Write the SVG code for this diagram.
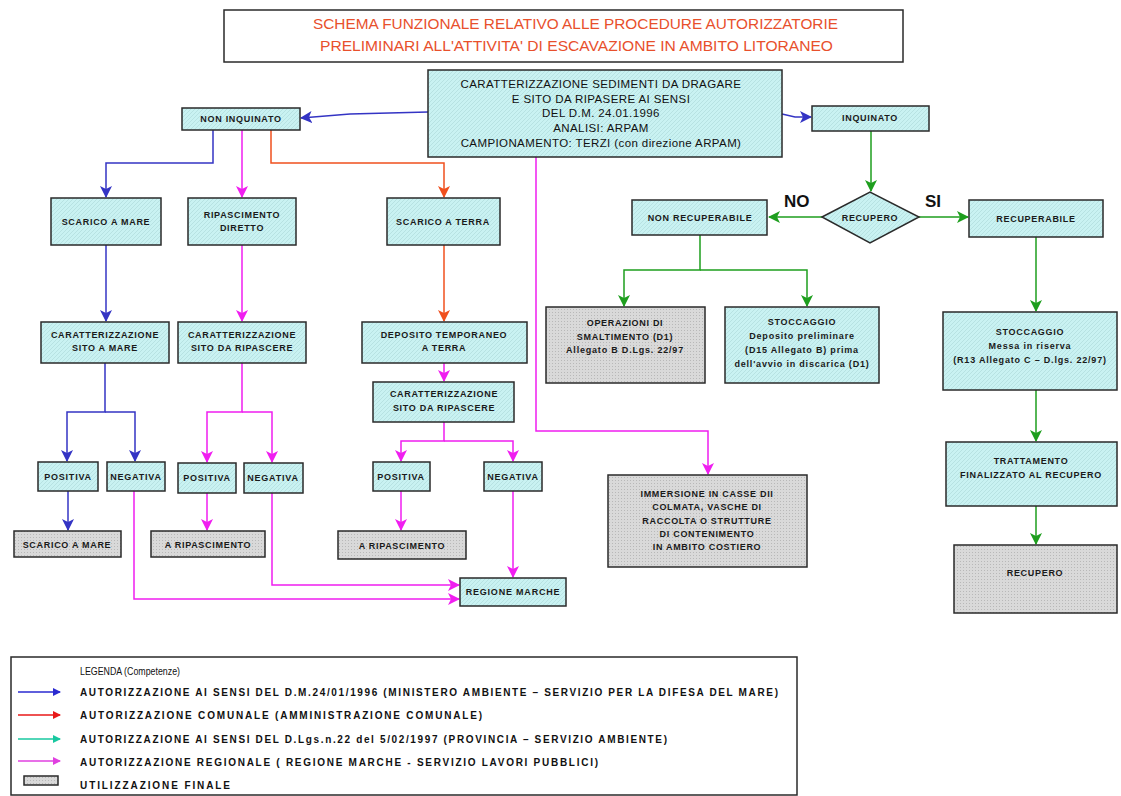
<svg xmlns="http://www.w3.org/2000/svg" width="1121" height="796" viewBox="0 0 1121 796">
<defs>
<pattern id="hc" width="4" height="4" patternUnits="userSpaceOnUse"><rect width="4" height="4" fill="#c9f2f2"/><path d="M0,4 L4,0" stroke="#b3dede" stroke-width="0.8"/></pattern>
<pattern id="hg" width="3" height="3" patternUnits="userSpaceOnUse"><rect width="3" height="3" fill="#d9d9d9"/><rect x="0" y="0" width="1" height="1" fill="#b8b8b8"/></pattern>
<marker id="aB" markerUnits="userSpaceOnUse" markerWidth="12" markerHeight="12" refX="11" refY="6" orient="auto"><path d="M0,0 L12,6 L0,12 L3,6 z" fill="#3434c4"/></marker>
<marker id="aM" markerUnits="userSpaceOnUse" markerWidth="12" markerHeight="12" refX="11" refY="6" orient="auto"><path d="M0,0 L12,6 L0,12 L3,6 z" fill="#f01ef0"/></marker>
<marker id="aO" markerUnits="userSpaceOnUse" markerWidth="12" markerHeight="12" refX="11" refY="6" orient="auto"><path d="M0,0 L12,6 L0,12 L3,6 z" fill="#f0501e"/></marker>
<marker id="aG" markerUnits="userSpaceOnUse" markerWidth="12" markerHeight="12" refX="11" refY="6" orient="auto"><path d="M0,0 L12,6 L0,12 L3,6 z" fill="#1e9e1e"/></marker>
<marker id="lB" markerUnits="userSpaceOnUse" markerWidth="8" markerHeight="8" refX="7" refY="4" orient="auto"><path d="M0,0 L8,4 L0,8 z" fill="#2a2ad0"/></marker>
<marker id="lR" markerUnits="userSpaceOnUse" markerWidth="8" markerHeight="8" refX="7" refY="4" orient="auto"><path d="M0,0 L8,4 L0,8 z" fill="#e81818"/></marker>
<marker id="lT" markerUnits="userSpaceOnUse" markerWidth="8" markerHeight="8" refX="7" refY="4" orient="auto"><path d="M0,0 L8,4 L0,8 z" fill="#18c8a0"/></marker>
<marker id="lM" markerUnits="userSpaceOnUse" markerWidth="8" markerHeight="8" refX="7" refY="4" orient="auto"><path d="M0,0 L8,4 L0,8 z" fill="#e040e0"/></marker>
</defs>
<style>
.c{fill:url(#hc);stroke:#2a2a2a;stroke-width:1.5}
.g{fill:url(#hg);stroke:#2a2a2a;stroke-width:1.5}
.t{font-family:"Liberation Sans",Arial,sans-serif;font-size:9px;font-weight:bold;fill:#1a1a1a;text-anchor:middle;letter-spacing:0.7px}
.tl{font-family:"Liberation Sans",Arial,sans-serif;font-size:9px;font-weight:bold;fill:#1a1a1a;text-anchor:middle;letter-spacing:0.8px}
.tc{font-family:"Liberation Sans",Arial,sans-serif;font-size:11.5px;fill:#111;text-anchor:middle;letter-spacing:0.4px}
.ti{font-family:"Liberation Sans",Arial,sans-serif;font-size:14.5px;fill:#e8502c}
.lg{font-family:"Liberation Sans",Arial,sans-serif;font-size:10px;font-weight:bold;fill:#111}
.yn{font-family:"Liberation Sans",Arial,sans-serif;font-size:17px;font-weight:bold;fill:#111}
.b{fill:none;stroke:#3434c4;stroke-width:1.5;marker-end:url(#aB)}
.m{fill:none;stroke:#f01ef0;stroke-width:1.5;marker-end:url(#aM)}
.o{fill:none;stroke:#f0501e;stroke-width:1.5;marker-end:url(#aO)}
.gr{fill:none;stroke:#1e9e1e;stroke-width:1.5;marker-end:url(#aG)}
</style>
<rect width="1121" height="796" fill="#ffffff"/>

<g id="title">
<rect x="224" y="10" width="679" height="52" fill="#ffffff" stroke="#2a2a2a" stroke-width="1.5"/>
<text class="ti" x="313" y="29" textLength="525" lengthAdjust="spacingAndGlyphs">SCHEMA FUNZIONALE RELATIVO ALLE PROCEDURE AUTORIZZATORIE</text>
<text class="ti" x="320" y="51" textLength="513" lengthAdjust="spacingAndGlyphs">PRELIMINARI ALL'ATTIVITA' DI ESCAVAZIONE IN AMBITO LITORANEO</text>
</g>

<g id="connectors">
<path class="b" d="M428,112 L350,114 L301,118"/>
<path class="b" d="M782,114 L795,117 L811,117"/>
<path class="b" d="M213,130 V163 H106 V197"/>
<path class="b" d="M106,245 V321"/>
<path class="b" d="M105,363 V412 H67 V461"/>
<path class="b" d="M105,412 H135 V461"/>
<path class="b" d="M68,491 V530"/>
<path class="m" d="M242,130 V197"/>
<path class="m" d="M242,245 V321"/>
<path class="m" d="M242,363 V412 H207 V462"/>
<path class="m" d="M242,412 H272 V462"/>
<path class="m" d="M207,493 V530"/>
<path class="m" d="M134,491 V599 H459"/>
<path class="m" d="M272,493 V585 H459"/>
<path class="m" d="M444,363 V381"/>
<path class="m" d="M444,422 V441 H401 V461"/>
<path class="m" d="M444,441 H513 V461"/>
<path class="m" d="M401,491 V530"/>
<path class="m" d="M513,491 V577"/>
<path class="m" d="M536,157 V431 H708 V474"/>
<path class="o" d="M271,130 V163 H444 V197"/>
<path class="o" d="M444,245 V321"/>
<path class="gr" d="M871,131 V191"/>
<path class="gr" d="M822,217 H769"/>
<path class="gr" d="M919,217 H968"/>
<path class="gr" d="M700,235 V270 H624 V306"/>
<path class="gr" d="M700,270 H807 V306"/>
<path class="gr" d="M1036,237 V311"/>
<path class="gr" d="M1036,390 V441"/>
<path class="gr" d="M1036,506 V544"/>
</g>

<g id="n-central">
<rect class="c" x="428" y="70" width="354" height="87"/>
<text class="tc" x="601" y="88">CARATTERIZZAZIONE SEDIMENTI DA DRAGARE</text>
<text class="tc" x="601" y="103">E SITO DA RIPASERE AI SENSI</text>
<text class="tc" x="601" y="117">DEL D.M. 24.01.1996</text>
<text class="tc" x="601" y="132">ANALISI: ARPAM</text>
<text class="tc" x="601" y="147">CAMPIONAMENTO: TERZI (con direzione ARPAM)</text>
</g>
<g id="n-noninq"><rect class="c" x="182" y="108" width="118" height="22"/><text class="t" x="241" y="122">NON INQUINATO</text></g>
<g id="n-inq"><rect class="c" x="812" y="106" width="117" height="25"/><text class="t" x="870" y="121">INQUINATO</text></g>
<g id="n-scaricomare"><rect class="c" x="51" y="198" width="110" height="47"/><text class="t" x="106" y="225">SCARICO A MARE</text></g>
<g id="n-ripdiretto"><rect class="c" x="188" y="198" width="108" height="47"/><text class="t" x="242" y="218">RIPASCIMENTO</text><text class="t" x="242" y="231">DIRETTO</text></g>
<g id="n-scaricoterra"><rect class="c" x="387" y="198" width="113" height="47"/><text class="t" x="443" y="225">SCARICO A TERRA</text></g>
<g id="n-caratmare"><rect class="c" x="41" y="322" width="128" height="41"/><text class="t" x="105" y="338">CARATTERIZZAZIONE</text><text class="t" x="105" y="351">SITO A MARE</text></g>
<g id="n-caratrip"><rect class="c" x="178" y="322" width="128" height="41"/><text class="t" x="242" y="338">CARATTERIZZAZIONE</text><text class="t" x="242" y="351">SITO DA RIPASCERE</text></g>
<g id="n-deposito"><rect class="c" x="362" y="322" width="165" height="41"/><text class="t" x="444" y="338">DEPOSITO TEMPORANEO</text><text class="t" x="444" y="351">A TERRA</text></g>
<g id="n-caratrip3"><rect class="c" x="373" y="382" width="141" height="40"/><text class="t" x="444" y="397">CARATTERIZZAZIONE</text><text class="t" x="444" y="411">SITO DA RIPASCERE</text></g>
<g id="n-pos1"><rect class="c" x="38" y="462" width="60" height="29"/><text class="tl" x="68" y="480">POSITIVA</text></g>
<g id="n-neg1"><rect class="c" x="107" y="462" width="58" height="29"/><text class="tl" x="136" y="480">NEGATIVA</text></g>
<g id="n-pos2"><rect class="c" x="178" y="463" width="58" height="30"/><text class="tl" x="207" y="481">POSITIVA</text></g>
<g id="n-neg2"><rect class="c" x="244" y="463" width="59" height="30"/><text class="tl" x="273" y="481">NEGATIVA</text></g>
<g id="n-pos3"><rect class="c" x="373" y="462" width="57" height="29"/><text class="tl" x="401" y="480">POSITIVA</text></g>
<g id="n-neg3"><rect class="c" x="484" y="462" width="58" height="29"/><text class="tl" x="513" y="480">NEGATIVA</text></g>
<g id="n-fin-scaricomare"><rect class="g" x="14" y="531" width="107" height="26"/><text class="t" x="67" y="548">SCARICO A MARE</text></g>
<g id="n-fin-rip2"><rect class="g" x="151" y="531" width="114" height="26"/><text class="t" x="208" y="548">A RIPASCIMENTO</text></g>
<g id="n-fin-rip3"><rect class="g" x="338" y="531" width="128" height="28"/><text class="t" x="402" y="549">A RIPASCIMENTO</text></g>
<g id="n-regione"><rect class="c" x="460" y="578" width="106" height="28"/><text class="tl" x="513" y="595">REGIONE MARCHE</text></g>
<g id="n-immersione"><rect class="g" x="608" y="475" width="199" height="92"/>
<text class="t" x="707" y="497">IMMERSIONE IN CASSE DII</text>
<text class="t" x="707" y="510">COLMATA, VASCHE DI</text>
<text class="t" x="707" y="524">RACCOLTA O STRUTTURE</text>
<text class="t" x="707" y="537">DI CONTENIMENTO</text>
<text class="t" x="707" y="550">IN AMBITO COSTIERO</text></g>
<g id="n-nonrecup"><rect class="c" x="632" y="200" width="135" height="35"/><text class="t" x="700" y="221">NON RECUPERABILE</text></g>
<g id="n-recupero-dec"><polygon class="c" points="822,217 870,192 919,217 870,243"/><text class="t" x="870" y="221">RECUPERO</text></g>
<g id="n-recuperabile"><rect class="c" x="969" y="200" width="134" height="37"/><text class="t" x="1036" y="222">RECUPERABILE</text></g>
<g id="n-operazioni"><rect class="g" x="546" y="307" width="159" height="76"/>
<text class="t" x="625" y="326">OPERAZIONI DI</text>
<text class="t" x="625" y="340">SMALTIMENTO (D1)</text>
<text class="tl" x="625" y="353">Allegato B  D.Lgs. 22/97</text></g>
<g id="n-stocc-mid"><rect class="c" x="725" y="307" width="154" height="76"/>
<text class="t" x="802" y="325">STOCCAGGIO</text>
<text class="tl" x="802" y="339">Deposito preliminare</text>
<text class="tl" x="802" y="353">(D15 Allegato B) prima</text>
<text class="tl" x="802" y="367">dell'avvio in discarica (D1)</text></g>
<g id="n-stocc-right"><rect class="c" x="943" y="312" width="174" height="78"/>
<text class="t" x="1030" y="335">STOCCAGGIO</text>
<text class="tl" x="1030" y="349">Messa in riserva</text>
<text class="tl" x="1030" y="363">(R13 Allegato C – D.lgs. 22/97)</text></g>
<g id="n-trattamento"><rect class="c" x="946" y="442" width="171" height="64"/>
<text class="t" x="1031" y="464">TRATTAMENTO</text>
<text class="t" x="1031" y="478">FINALIZZATO AL RECUPERO</text></g>
<g id="n-recupero"><rect class="g" x="954" y="545" width="163" height="68"/><text class="t" x="1035" y="576">RECUPERO</text></g>

<text class="yn" x="784" y="207">NO</text>
<text class="yn" x="925" y="207">SI</text>

<g id="legend">
<rect x="11" y="657" width="786" height="138" fill="#ffffff" stroke="#2a2a2a" stroke-width="1.5"/>
<text class="lg" x="80" y="675" textLength="100" lengthAdjust="spacingAndGlyphs" style="font-weight:normal">LEGENDA (Competenze)</text>
<line x1="18" y1="692" x2="60" y2="692" stroke="#2a2ad0" stroke-width="1.5" marker-end="url(#lB)"/>
<line x1="18" y1="715" x2="60" y2="715" stroke="#e81818" stroke-width="1.5" marker-end="url(#lR)"/>
<line x1="18" y1="739" x2="60" y2="739" stroke="#18c8a0" stroke-width="1.5" marker-end="url(#lT)"/>
<line x1="18" y1="761" x2="60" y2="761" stroke="#e040e0" stroke-width="1.5" marker-end="url(#lM)"/>
<rect x="24" y="776" width="34" height="9" class="g"/>
<text class="lg" x="80" y="696" textLength="698" lengthAdjust="spacing">AUTORIZZAZIONE  AI SENSI DEL D.M.24/01/1996 (MINISTERO AMBIENTE – SERVIZIO PER LA DIFESA DEL MARE)</text>
<text class="lg" x="80" y="719" textLength="402" lengthAdjust="spacing">AUTORIZZAZIONE COMUNALE (AMMINISTRAZIONE COMUNALE)</text>
<text class="lg" x="80" y="743" textLength="587" lengthAdjust="spacing">AUTORIZZAZIONE AI SENSI DEL D.Lgs.n.22 del 5/02/1997 (PROVINCIA –  SERVIZIO AMBIENTE)</text>
<text class="lg" x="80" y="766" textLength="518" lengthAdjust="spacing">AUTORIZZAZIONE REGIONALE ( REGIONE MARCHE - SERVIZIO LAVORI PUBBLICI)</text>
<text class="lg" x="80" y="789" textLength="150" lengthAdjust="spacing">UTILIZZAZIONE FINALE</text>
</g>
</svg>
